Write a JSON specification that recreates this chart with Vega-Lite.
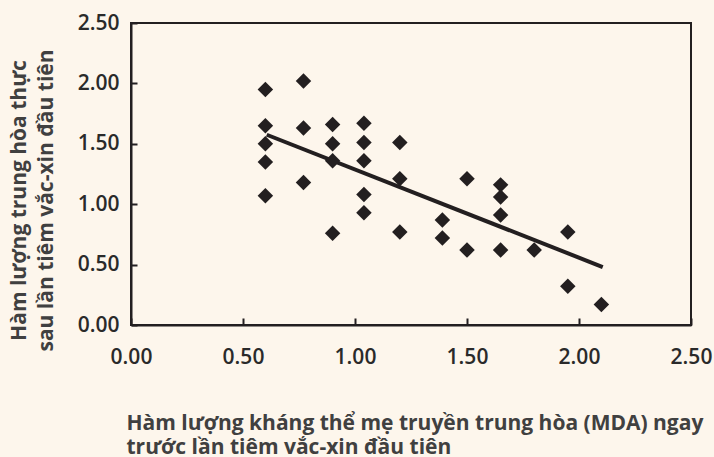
{
  "$schema": "https://vega.github.io/schema/vega-lite/v6.json",
  "width": 560,
  "height": 302,
  "autosize": {"type": "none"},
  "padding": {"left": 131, "top": 23, "right": 23, "bottom": 132},
  "background": "#fdf6ec",
  "config": {
    "view": {"stroke": "#231f20", "strokeWidth": 2, "fill": "#fdf6ec"},
    "font": "Open Sans"
  },
  "datasets": {
    "points": [
      {"mda": 0.60, "nt": 1.95}, {"mda": 0.60, "nt": 1.65}, {"mda": 0.60, "nt": 1.50}, {"mda": 0.60, "nt": 1.35}, {"mda": 0.60, "nt": 1.07},
      {"mda": 0.77, "nt": 2.02}, {"mda": 0.77, "nt": 1.63}, {"mda": 0.77, "nt": 1.18},
      {"mda": 0.90, "nt": 1.66}, {"mda": 0.90, "nt": 1.50}, {"mda": 0.90, "nt": 1.36}, {"mda": 0.90, "nt": 0.76},
      {"mda": 1.04, "nt": 1.67}, {"mda": 1.04, "nt": 1.51}, {"mda": 1.04, "nt": 1.36}, {"mda": 1.04, "nt": 1.08}, {"mda": 1.04, "nt": 0.93},
      {"mda": 1.20, "nt": 1.51}, {"mda": 1.20, "nt": 1.21}, {"mda": 1.20, "nt": 0.77},
      {"mda": 1.39, "nt": 0.87}, {"mda": 1.39, "nt": 0.72},
      {"mda": 1.50, "nt": 1.21}, {"mda": 1.50, "nt": 0.62},
      {"mda": 1.65, "nt": 1.16}, {"mda": 1.65, "nt": 1.06}, {"mda": 1.65, "nt": 0.91}, {"mda": 1.65, "nt": 0.62},
      {"mda": 1.80, "nt": 0.62},
      {"mda": 1.95, "nt": 0.77}, {"mda": 1.95, "nt": 0.32},
      {"mda": 2.10, "nt": 0.17}
    ],
    "fit": [
      {"mda": 0.606, "nt": 1.575},
      {"mda": 2.106, "nt": 0.48}
    ]
  },
  "layer": [
    {
      "data": {"name": "fit"},
      "mark": {"type": "line", "color": "#231f20", "strokeWidth": 4, "clip": true},
      "encoding": {
        "x": {
          "field": "mda", "type": "quantitative",
          "scale": {"domain": [0, 2.5], "nice": false, "zero": true},
          "axis": {
            "values": [0, 0.5, 1, 1.5, 2, 2.5],
            "format": ".2f",
            "grid": false,
            "domainColor": "#231f20", "domainWidth": 2,
            "tickColor": "#231f20", "tickWidth": 2, "tickSize": -7,
            "labelFont": "Open Sans", "labelFontSize": 21, "labelFontWeight": 600, "labelColor": "#2a2a2a",
            "labelPadding": 28, "labelFlush": false, "labelOverlap": false,
            "title": ["Hàm lượng kháng thể mẹ truyền trung hòa (MDA) ngay", "trước lần tiêm vắc-xin đầu tiên"],
            "titleFont": "Open Sans", "titleFontSize": 21, "titleFontWeight": 700, "titleColor": "#404040",
            "titleAnchor": "start", "titleAlign": "left", "titleBaseline": "alphabetic",
            "titleX": -5, "titleY": 104, "titleLineHeight": 24
          }
        },
        "y": {
          "field": "nt", "type": "quantitative",
          "scale": {"domain": [0, 2.5], "nice": false, "zero": true},
          "axis": {
            "values": [0, 0.5, 1, 1.5, 2, 2.5],
            "format": ".2f",
            "grid": false,
            "domainColor": "#231f20", "domainWidth": 2,
            "tickColor": "#231f20", "tickWidth": 2, "tickSize": -6,
            "labelFont": "Open Sans", "labelFontSize": 21, "labelFontWeight": 600, "labelColor": "#2a2a2a",
            "labelPadding": 18, "labelFlush": false, "labelOverlap": false,
            "title": ["Hàm lượng trung hòa thực", "sau lần tiêm vắc-xin đầu tiên"],
            "titleFont": "Open Sans", "titleFontSize": 21, "titleFontWeight": 700, "titleColor": "#404040",
            "titleAngle": -90, "titleAlign": "center", "titleBaseline": "alphabetic",
            "titleX": -106, "titleY": 177, "titleLineHeight": 27
          }
        }
      }
    },
    {
      "data": {"name": "points"},
      "mark": {"type": "point", "shape": "diamond", "filled": true, "color": "#231f20", "size": 240, "opacity": 1},
      "encoding": {
        "x": {"field": "mda", "type": "quantitative"},
        "y": {"field": "nt", "type": "quantitative"}
      }
    }
  ]
}
